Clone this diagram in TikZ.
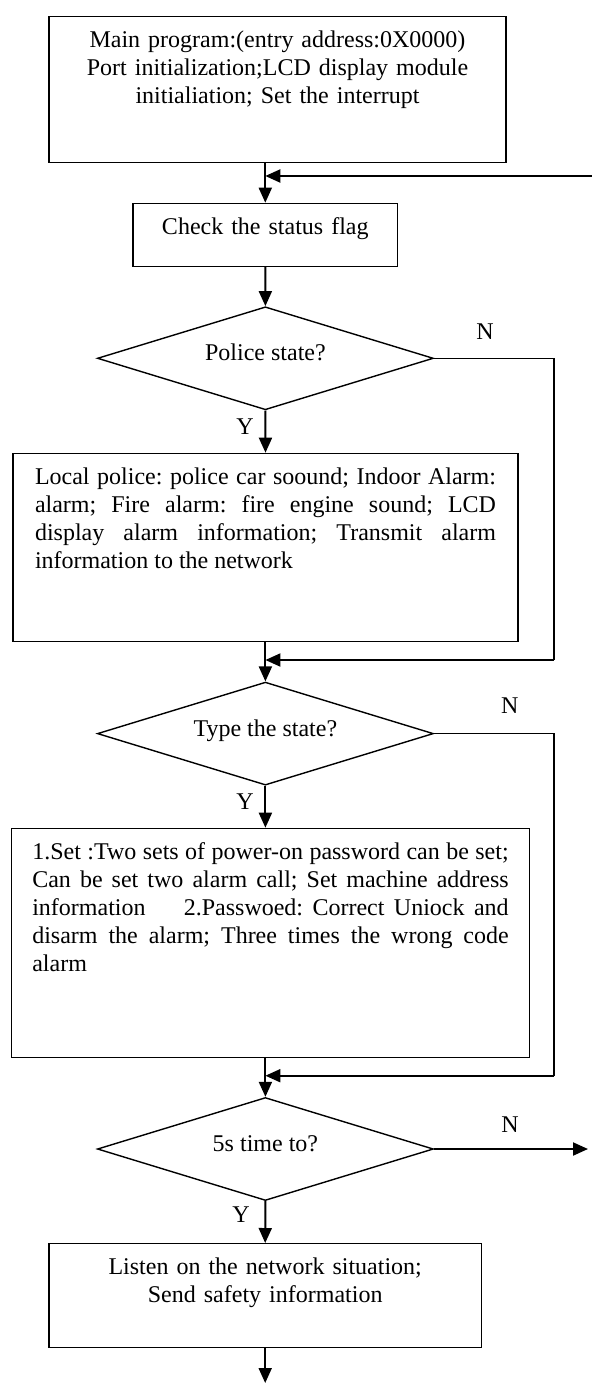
\documentclass[tikz,border=0pt]{standalone}
\usepackage{fontspec}
\setmainfont{Liberation Serif}
\frenchspacing
\usetikzlibrary{shapes.geometric,arrows.meta}

\begin{document}
\begin{tikzpicture}[x=0.5pt,y=-0.5pt,
  font=\fontsize{12}{14}\selectfont,
  procbox/.style={draw, line width=0.6pt, anchor=north, text height=9pt, inner xsep=11pt, inner ysep=6.5pt},
  decision/.style={draw, diamond, line width=0.7pt, minimum width=168pt, minimum height=51.5pt, inner sep=0pt, aspect=2, text height=9pt, text depth=6.5pt},
  flow/.style={draw, line width=1pt, -{Triangle[length=7.5pt,width=6.5pt]}},
  back/.style={draw, line width=0.6pt}]
\useasboundingbox (0,0) rectangle (592,1385);

% boxes
\node[procbox, text width=206.5pt, align=center, text depth=51pt] (main) at (277.5,15.7) {Main program:(entry address:0X0000)\\ Port initialization;LCD display module\\ initialiation; Set the interrupt};
\node[procbox, text width=110.3pt, align=center, text depth=9.5pt] (check) at (265.3,202.7) {Check the status flag};
\node[decision] (police) at (265.4,358.3) {Police state?};
\node[procbox, text width=230.5pt, align=justify, text depth=72pt] (alarm) at (265.5,452.7) {Local police: police car soound; Indoor Alarm:\linebreak alarm; Fire alarm: fire engine sound; LCD\linebreak display alarm information; Transmit alarm\linebreak information to the network};
\node[decision] (typest) at (265.4,733.6) {Type the state?};
\node[procbox, text width=238.2pt, inner xsep=10.5pt, align=justify, text depth=92.5pt] (setup) at (270.5,827.7) {1.Set :Two sets of power-on password can be set;\linebreak Can be set two alarm call; Set machine address\linebreak information\hspace{1.2em} 2.Passwoed: Correct Uniock and\linebreak disarm the alarm; Three times the wrong code\linebreak alarm};
\node[decision] (timer) at (265.4,1149) {5s time to?};
\node[procbox, text width=194.2pt, align=center, text depth=30pt] (listen) at (265.2,1243) {Listen on the network situation;\\ Send safety information};

% labels
\node (y1) at (245,426.7) {Y};
\node (y2) at (245,801.7) {Y};
\node (y3) at (241,1215) {Y};
\node (n1) at (485,332) {N};
\node (n2) at (509.7,706) {N};
\node (n3) at (510,1125) {N};

% free ends and corners
\coordinate (loopin) at (592,176);
\coordinate (r1) at (554,358.3);
\coordinate (j1) at (554,660);
\coordinate (r2) at (554,733.6);
\coordinate (j2) at (554,1075.7);
\coordinate (timeout) at (588,1149);
\coordinate (next) at (265.2,1383);

\path[flow] (check.north |- main.south) -- (check.north);
\path[flow] (loopin) -- (loopin -| check.north);
\path[flow] (check.south) -- (police.north);
\path[flow] (police.south) -- (alarm.north);
\path[back] (police.east) -- (r1) -- (j1);
\path[flow] (j1) -- (j1 -| police.south);
\path[flow] (police.south |- alarm.south) -- (typest.north);
\path[flow] (typest.south) -- (typest.south |- setup.north);
\path[back] (typest.east) -- (r2) -- (j2);
\path[flow] (j2) -- (j2 -| typest.south);
\path[flow] (typest.south |- setup.south) -- (timer.north);
\path[flow] (timer.east) -- (timeout);
\path[flow] (timer.south) -- (listen.north);
\path[flow] (listen.south) -- (next);
\end{tikzpicture}
\end{document}
